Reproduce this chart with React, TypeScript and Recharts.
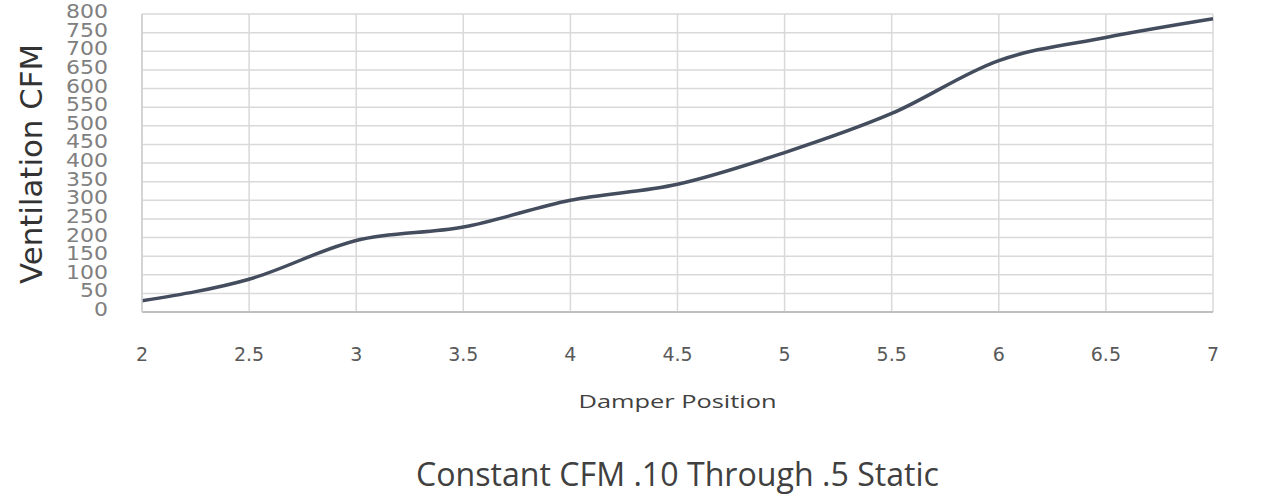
import { LineChart, Line, XAxis, YAxis, CartesianGrid, Label } from 'recharts';

// damper position readings and the measured airflow
const damperPositions = [2, 2.5, 3, 3.5, 4, 4.5, 5, 5.5, 6, 6.5, 7];
const ventilationCfm = [30, 88, 192, 228, 300, 343, 428, 533, 675, 737, 787];

const xTicks = [2, 2.5, 3, 3.5, 4, 4.5, 5, 5.5, 6, 6.5, 7];
const yTicks = [0, 50, 100, 150, 200, 250, 300, 350, 400, 450, 500, 550, 600, 650, 700, 750, 800];

const chartTitle = 'Constant CFM .10 Through .5 Static';
const xTitle = 'Damper Position';
const yTitle = 'Ventilation CFM';

const data = damperPositions.map((pos, i) => ({ pos, cfm: ventilationCfm[i] }));

const XTick = (props: any) => {
  const { x, y, payload } = props;
  return (
    <text x={x} y={y + 47} textAnchor="middle" fontFamily="DejaVu Sans" fontSize={19} fill="#595959">
      {payload.value}
    </text>
  );
};

const YTick = (props: any) => {
  const { x, y, payload } = props;
  return (
    <text x={x - 32} y={y + 4} textAnchor="end" fontFamily="DejaVu Sans" fontSize={19} fill="#808080"
      textLength={String(payload.value).length * 14} lengthAdjust="spacingAndGlyphs">
      {payload.value}
    </text>
  );
};

const XTitles = (props: any) => {
  const { x, y, width } = props.viewBox;
  const cx = x + width / 2;
  return (
    <g>
      <text x={cx} y={y + 96} textAnchor="middle" fontFamily="Open Sans" fontSize={19}
        textLength={198} lengthAdjust="spacingAndGlyphs" fill="#404040">
        {xTitle}
      </text>
      <text x={cx} y={y + 174} textAnchor="middle" fontFamily="Open Sans" fontSize={33}
        textLength={523} lengthAdjust="spacingAndGlyphs" fill="#404040">
        {chartTitle}
      </text>
    </g>
  );
};

const YTitle = () => (
  <text x={34} y={164} transform="rotate(-90 34 164)" textAnchor="middle" fontFamily="DejaVu Sans"
    fontSize={30} textLength={240} lengthAdjust="spacingAndGlyphs" fill="#333333">
    {yTitle}
  </text>
);

export default function App() {
  return (
    <div style={{ position: 'absolute', top: 0, left: 8, width: 1261, height: 494 }}>
      <style>{'.recharts-surface { overflow: visible; }'}</style>
      <LineChart width={1261} height={494} data={data} margin={{ top: 14, right: 56, left: 0, bottom: 0 }}>
        <CartesianGrid stroke="#d9d9d9" strokeWidth={1.5} />
        <XAxis
          dataKey="pos"
          type="number"
          domain={[2, 7]}
          ticks={xTicks}
          height={182}
          tickLine={false}
          tickSize={0}
          axisLine={{ stroke: '#bfbfbf', strokeWidth: 2 }}
          tick={<XTick />}
          interval={0}
        >
          <Label content={<XTitles />} />
        </XAxis>
        <YAxis
          domain={[0, 800]}
          ticks={yTicks}
          width={134}
          tickLine={false}
          tickSize={0}
          axisLine={{ stroke: '#cfcfcf', strokeWidth: 1.5 }}
          tick={<YTick />}
          interval={0}
        >
          <Label content={<YTitle />} />
        </YAxis>
        <Line
          type="monotone"
          dataKey="cfm"
          stroke="#444d5e"
          strokeWidth={3.5}
          dot={false}
          isAnimationActive={false}
        />
      </LineChart>
    </div>
  );
}
